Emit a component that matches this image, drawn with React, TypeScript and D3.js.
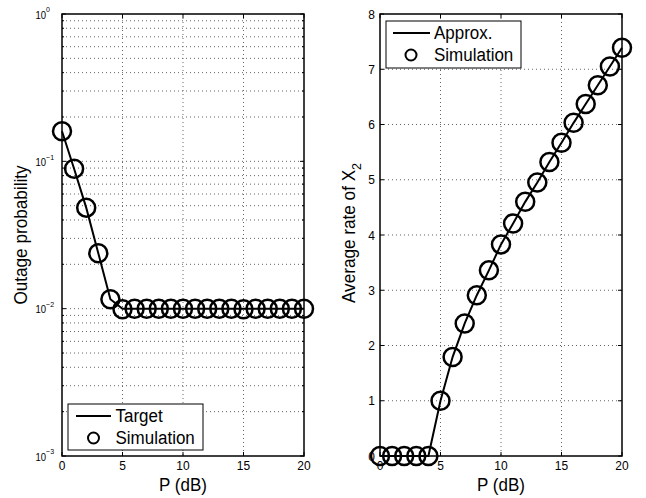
import React, { useEffect, useRef } from "react";
import * as d3 from "d3";

// P (dB) sample points
const pdb = [0, 1, 2, 3, 4, 5, 6, 7, 8, 9, 10, 11, 12, 13, 14, 15, 16, 17, 18, 19, 20];

// left panel: outage probability
const outageTarget = [0.16, 0.089, 0.0485, 0.0238, 0.0116, 0.01, 0.01, 0.01, 0.01, 0.01, 0.01, 0.01, 0.01, 0.01, 0.01, 0.01, 0.01, 0.01, 0.01, 0.01, 0.01];
const outageSim = [0.16, 0.089, 0.0485, 0.0238, 0.0116, 0.0099, 0.01, 0.01, 0.01, 0.01, 0.01, 0.01, 0.01, 0.01, 0.01, 0.0099, 0.01, 0.01, 0.01, 0.01, 0.01];

// right panel: average rate of X2
const rateApprox = [0, 0, 0, 0, 0, 1.0, 1.79, 2.4, 2.91, 3.36, 3.83, 4.21, 4.6, 4.95, 5.32, 5.67, 6.03, 6.37, 6.71, 7.05, 7.39];
const rateSim = [0, 0, 0, 0, 0, 1.0, 1.79, 2.4, 2.91, 3.36, 3.83, 4.21, 4.6, 4.95, 5.32, 5.67, 6.03, 6.37, 6.71, 7.05, 7.39];

const xTicks = [0, 5, 10, 15, 20];
const logMajor = [-3, -2, -1, 0];
const rateTicks = [1, 2, 3, 4, 5, 6, 7, 8];

const FONT = "'Liberation Sans', Arial, Helvetica, sans-serif";
const SY = 1.12; // the original figure is slightly stretched vertically

// text placed at (x, y) with a small vertical stretch
function addText(g: any, x: number, y: number, str: string, size: number, anchor = "start") {
    return g.append("text")
        .attr("transform", `translate(${x},${y}) scale(1,${SY})`)
        .attr("text-anchor", anchor)
        .attr("font-size", size).attr("font-family", FONT)
        .text(str);
}

export default function App() {
    const ref = useRef<SVGSVGElement>(null);

    useEffect(() => {
        const svg = d3.select(ref.current);
        svg.selectAll("*").remove();

        const top = 14, bottom = 456;

        // ---------- left panel ----------
        const lx = d3.scaleLinear().domain([0, 20]).range([62, 304]);
        const ly = d3.scaleLog().domain([1e-3, 1]).range([bottom, top]);

        const g1 = svg.append("g");
        // minor + major log grid
        const minorVals: number[] = [];
        logMajor.slice(0, 3).forEach((e) => {
            for (let m = 2; m <= 9; m++) minorVals.push(m * Math.pow(10, e));
        });
        const hGrid = minorVals.concat([0.01, 0.1]);
        g1.selectAll(".hg").data(hGrid).enter().append("line")
            .attr("x1", 62).attr("x2", 304)
            .attr("y1", (d) => ly(d)).attr("y2", (d) => ly(d))
            .attr("stroke", "#666").attr("stroke-width", 1).attr("stroke-dasharray", "1,3");
        g1.selectAll(".vg").data([5, 10, 15]).enter().append("line")
            .attr("x1", (d) => lx(d)).attr("x2", (d) => lx(d))
            .attr("y1", top).attr("y2", bottom)
            .attr("stroke", "#666").attr("stroke-width", 1).attr("stroke-dasharray", "1,3");

        const line1 = d3.line<number>().x((d, i) => lx(pdb[i])).y((d) => ly(d));
        g1.append("path").attr("d", line1(outageTarget))
            .attr("fill", "none").attr("stroke", "#000").attr("stroke-width", 2);
        g1.selectAll(".m").data(outageSim).enter().append("circle")
            .attr("cx", (d, i) => lx(pdb[i])).attr("cy", (d) => ly(d)).attr("r", 9)
            .attr("fill", "none").attr("stroke", "#000").attr("stroke-width", 2.5);

        // box + ticks
        g1.append("rect").attr("x", 62).attr("y", top).attr("width", 242).attr("height", bottom - top)
            .attr("fill", "none").attr("stroke", "#000").attr("stroke-width", 1.5);
        xTicks.forEach((t) => {
            g1.append("line").attr("x1", lx(t)).attr("x2", lx(t)).attr("y1", bottom).attr("y2", bottom - 4).attr("stroke", "#000");
            g1.append("line").attr("x1", lx(t)).attr("x2", lx(t)).attr("y1", top).attr("y2", top + 4).attr("stroke", "#000");
            addText(g1, lx(t), 470, String(t), 12, "middle");
        });
        minorVals.forEach((v) => {
            g1.append("line").attr("x1", 62).attr("x2", 64).attr("y1", ly(v)).attr("y2", ly(v)).attr("stroke", "#000");
            g1.append("line").attr("x1", 304).attr("x2", 302).attr("y1", ly(v)).attr("y2", ly(v)).attr("stroke", "#000");
        });
        logMajor.forEach((e) => {
            const y = ly(Math.pow(10, e));
            g1.append("line").attr("x1", 62).attr("x2", 66).attr("y1", y).attr("y2", y).attr("stroke", "#000");
            g1.append("line").attr("x1", 304).attr("x2", 300).attr("y1", y).attr("y2", y).attr("stroke", "#000");
            const tx = addText(g1, 35.5, y + 4.5, "", 9.5);
            tx.append("tspan").text("10");
            tx.append("tspan").attr("font-size", 7).attr("dy", -5.5)
                .text(e === 0 ? "0" : "\u2212" + Math.abs(e));
        });

        addText(g1, 183, 491, "P (dB)", 17, "middle");
        g1.append("text").attr("transform", `translate(26.5,235) rotate(-90) scale(1.04,${SY})`).attr("text-anchor", "middle")
            .attr("font-size", 16.5).attr("font-family", FONT).text("Outage probability");

        // legend
        const lg1 = g1.append("g");
        lg1.append("rect").attr("x", 68).attr("y", 404).attr("width", 135).attr("height", 46)
            .attr("fill", "#fff").attr("stroke", "#000").attr("stroke-width", 1);
        lg1.append("line").attr("x1", 76).attr("x2", 111).attr("y1", 416).attr("y2", 416)
            .attr("stroke", "#000").attr("stroke-width", 2);
        lg1.append("circle").attr("cx", 93.5).attr("cy", 438).attr("r", 5.5)
            .attr("fill", "none").attr("stroke", "#000").attr("stroke-width", 2);
        addText(lg1, 115.5, 422, "Target", 17);
        addText(lg1, 115.5, 444, "Simulation", 17);

        // ---------- right panel ----------
        const rx = d3.scaleLinear().domain([0, 20]).range([380, 622]);
        const ry = d3.scaleLinear().domain([0, 8]).range([bottom, top]);
        const g2 = svg.append("g");

        g2.selectAll(".hg").data([1, 2, 3, 4, 5, 6, 7]).enter().append("line")
            .attr("x1", 380).attr("x2", 622)
            .attr("y1", (d) => ry(d)).attr("y2", (d) => ry(d))
            .attr("stroke", "#666").attr("stroke-width", 1).attr("stroke-dasharray", "1,3");
        g2.selectAll(".vg").data([5, 10, 15]).enter().append("line")
            .attr("x1", (d) => rx(d)).attr("x2", (d) => rx(d))
            .attr("y1", top).attr("y2", bottom)
            .attr("stroke", "#666").attr("stroke-width", 1).attr("stroke-dasharray", "1,3");

        g2.append("rect").attr("x", 380).attr("y", top).attr("width", 242).attr("height", bottom - top)
            .attr("fill", "none").attr("stroke", "#000").attr("stroke-width", 1.5);
        xTicks.forEach((t) => {
            g2.append("line").attr("x1", rx(t)).attr("x2", rx(t)).attr("y1", bottom).attr("y2", bottom - 4).attr("stroke", "#000");
            g2.append("line").attr("x1", rx(t)).attr("x2", rx(t)).attr("y1", top).attr("y2", top + 4).attr("stroke", "#000");
            addText(g2, rx(t), 470, String(t), 12, "middle");
        });
        [0].concat(rateTicks).forEach((t) => {
            g2.append("line").attr("x1", 380).attr("x2", 384).attr("y1", ry(t)).attr("y2", ry(t)).attr("stroke", "#000");
            g2.append("line").attr("x1", 622).attr("x2", 618).attr("y1", ry(t)).attr("y2", ry(t)).attr("stroke", "#000");
            addText(g2, 375, ry(t) + 4.5, String(t), 12, "end");
        });

        const line2 = d3.line<number>().x((d, i) => rx(pdb[i])).y((d) => ry(d));
        g2.append("path").attr("d", line2(rateApprox))
            .attr("fill", "none").attr("stroke", "#000").attr("stroke-width", 2);
        g2.selectAll(".m").data(rateSim).enter().append("circle")
            .attr("cx", (d, i) => rx(pdb[i])).attr("cy", (d) => ry(d)).attr("r", 9)
            .attr("fill", "none").attr("stroke", "#000").attr("stroke-width", 2.5);

        addText(g2, 501, 491, "P (dB)", 17, "middle");
        const yl = g2.append("text").attr("transform", `translate(355,233) rotate(-90) scale(1.04,${SY})`).attr("text-anchor", "middle")
            .attr("font-size", 16.5).attr("font-family", FONT);
        yl.append("tspan").text("Average rate of X");
        yl.append("tspan").attr("font-size", 12).attr("dy", 5).text("2");

        const lg2 = g2.append("g");
        lg2.append("rect").attr("x", 386).attr("y", 21).attr("width", 135).attr("height", 47)
            .attr("fill", "#fff").attr("stroke", "#000").attr("stroke-width", 1);
        lg2.append("line").attr("x1", 393).attr("x2", 430).attr("y1", 33).attr("y2", 33)
            .attr("stroke", "#000").attr("stroke-width", 2);
        lg2.append("circle").attr("cx", 411).attr("cy", 55).attr("r", 5.5)
            .attr("fill", "none").attr("stroke", "#000").attr("stroke-width", 2);
        addText(lg2, 434, 39, "Approx.", 17);
        addText(lg2, 434, 61, "Simulation", 17);
    }, []);

    return (
        <div style={{ position: "absolute", left: 0, top: 0, background: "#fff" }}>
            <svg ref={ref} width={646} height={498} style={{ display: "block" }}></svg>
        </div>
    );
}
